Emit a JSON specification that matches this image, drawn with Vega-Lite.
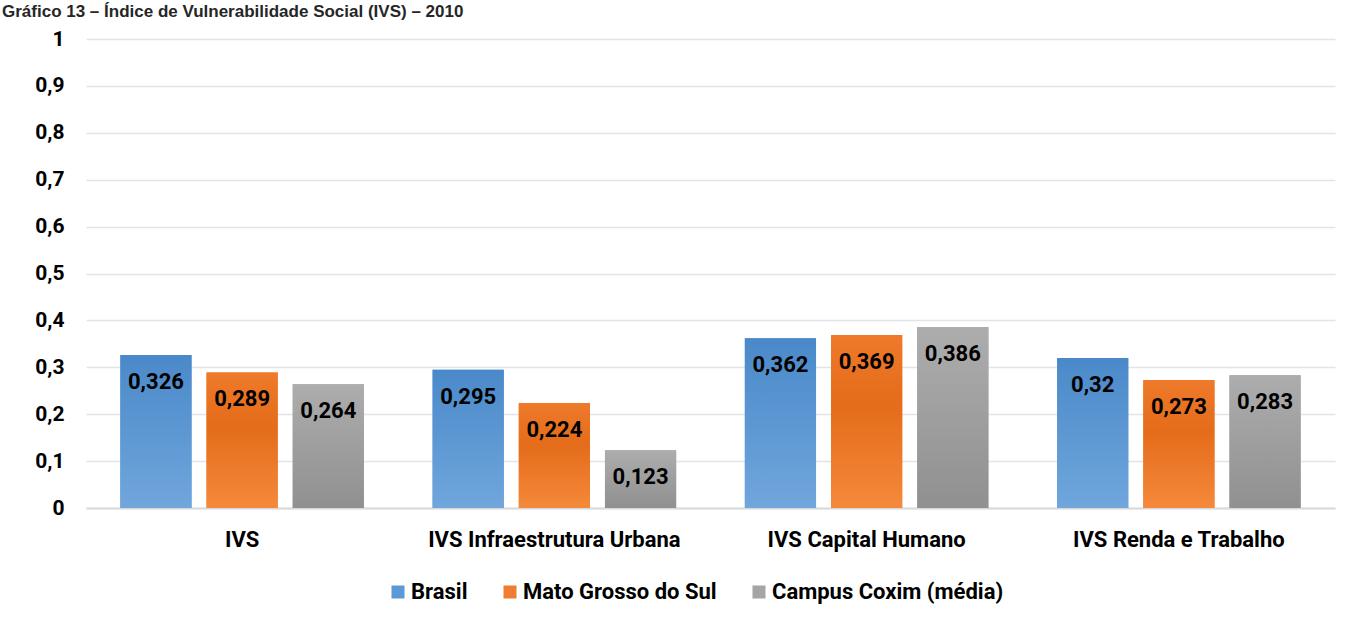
{
  "$schema": "https://vega.github.io/schema/vega-lite/v6.json",
  "autosize": {"type": "none"},
  "width": 1249,
  "height": 469,
  "padding": {"left": 86, "top": 39, "right": 34, "bottom": 114},
  "background": "white",
  "config": {
    "locale": {"number": {"decimal": ",", "thousands": ".", "grouping": [3], "currency": ["R$", ""]}},
    "view": {"stroke": null},
    "font": "Roboto"
  },
  "title": {
    "text": "Gráfico 13 – Índice de Vulnerabilidade Social (IVS) – 2010",
    "anchor": "start",
    "frame": "group",
    "dx": -84,
    "offset": 7,
    "font": "Liberation Sans",
    "fontSize": 17,
    "fontWeight": "bold",
    "color": "#262626"
  },
  "data": {
    "values": [
      {"categoria": "IVS", "serie": "Brasil", "valor": 0.326},
      {"categoria": "IVS", "serie": "Mato Grosso do Sul", "valor": 0.289},
      {"categoria": "IVS", "serie": "Campus Coxim (média)", "valor": 0.264},
      {"categoria": "IVS Infraestrutura Urbana", "serie": "Brasil", "valor": 0.295},
      {"categoria": "IVS Infraestrutura Urbana", "serie": "Mato Grosso do Sul", "valor": 0.224},
      {"categoria": "IVS Infraestrutura Urbana", "serie": "Campus Coxim (média)", "valor": 0.123},
      {"categoria": "IVS Capital Humano", "serie": "Brasil", "valor": 0.362},
      {"categoria": "IVS Capital Humano", "serie": "Mato Grosso do Sul", "valor": 0.369},
      {"categoria": "IVS Capital Humano", "serie": "Campus Coxim (média)", "valor": 0.386},
      {"categoria": "IVS Renda e Trabalho", "serie": "Brasil", "valor": 0.32},
      {"categoria": "IVS Renda e Trabalho", "serie": "Mato Grosso do Sul", "valor": 0.273},
      {"categoria": "IVS Renda e Trabalho", "serie": "Campus Coxim (média)", "valor": 0.283}
    ]
  },
  "encoding": {
    "x": {
      "field": "categoria",
      "type": "nominal",
      "sort": ["IVS", "IVS Infraestrutura Urbana", "IVS Capital Humano", "IVS Renda e Trabalho"],
      "scale": {"paddingInner": 0.22, "paddingOuter": 0.11},
      "axis": {
        "title": null,
        "labelAngle": 0,
        "labelFont": "Roboto",
        "labelFontSize": 22,
        "labelFontWeight": "bold",
        "labelColor": "#000000",
        "labelPadding": 21,
        "labelLimit": 0,
        "ticks": false,
        "domainColor": "#d9d9d9",
        "domainWidth": 2,
        "grid": false
      }
    },
    "xOffset": {
      "field": "serie",
      "type": "nominal",
      "sort": ["Brasil", "Mato Grosso do Sul", "Campus Coxim (média)"],
      "scale": {"paddingInner": 0.174, "paddingOuter": 0}
    },
    "y": {
      "field": "valor",
      "type": "quantitative",
      "scale": {"domain": [0, 1], "nice": false},
      "axis": {
        "title": null,
        "values": [0, 0.1, 0.2, 0.3, 0.4, 0.5, 0.6, 0.7, 0.8, 0.9, 1],
        "format": ".1~f",
        "labelFont": "Roboto",
        "labelFontSize": 21,
        "labelFontWeight": "bold",
        "labelColor": "#000000",
        "labelPadding": 22,
        "ticks": false,
        "domain": false,
        "gridColor": "#e1e4ea",
        "gridWidth": 1.5
      }
    }
  },
  "layer": [
    {
      "mark": {"type": "bar"},
      "encoding": {
        "color": {
          "field": "serie",
          "type": "nominal",
          "sort": ["Brasil", "Mato Grosso do Sul", "Campus Coxim (média)"],
          "scale": {"range": ["#5b9bd5", "#ed7d31", "#a5a5a5"]},
          "legend": {
            "title": null,
            "orient": "none",
            "direction": "horizontal",
            "legendX": 301,
            "legendY": 542,
            "symbolType": "square",
            "symbolSize": 169,
            "symbolStrokeWidth": 0,
            "labelFont": "Roboto",
            "labelFontSize": 22,
            "labelFontWeight": "bold",
            "labelColor": "#000000",
            "labelLimit": 0,
            "columnPadding": 31,
            "labelOffset": 2
          }
        }
      }
    },
    {
      "transform": [{"filter": "datum.serie === 'Brasil'"}],
      "mark": {
        "type": "bar",
        "fill": {"gradient": "linear", "x1": 0, "y1": 0, "x2": 0, "y2": 1,
          "stops": [{"offset": 0, "color": "#4a89c9"}, {"offset": 1, "color": "#70a6dc"}]}
      }
    },
    {
      "transform": [{"filter": "datum.serie === 'Mato Grosso do Sul'"}],
      "mark": {
        "type": "bar",
        "fill": {"gradient": "linear", "x1": 0, "y1": 0, "x2": 0, "y2": 1,
          "stops": [{"offset": 0, "color": "#ef7a2b"}, {"offset": 0.4, "color": "#e46c1a"}, {"offset": 1, "color": "#f5893b"}]}
      }
    },
    {
      "transform": [{"filter": "datum.serie === 'Campus Coxim (média)'"}],
      "mark": {
        "type": "bar",
        "fill": {"gradient": "linear", "x1": 0, "y1": 0, "x2": 0, "y2": 1,
          "stops": [{"offset": 0, "color": "#adadad"}, {"offset": 1, "color": "#909090"}]}
      }
    },
    {
      "mark": {
        "type": "text",
        "baseline": "middle",
        "align": "center",
        "dy": 27,
        "font": "Roboto",
        "fontSize": 22,
        "fontWeight": "bold",
        "color": "#000000"
      },
      "encoding": {
        "text": {"field": "valor", "type": "quantitative", "format": ".3~f"}
      }
    }
  ]
}
